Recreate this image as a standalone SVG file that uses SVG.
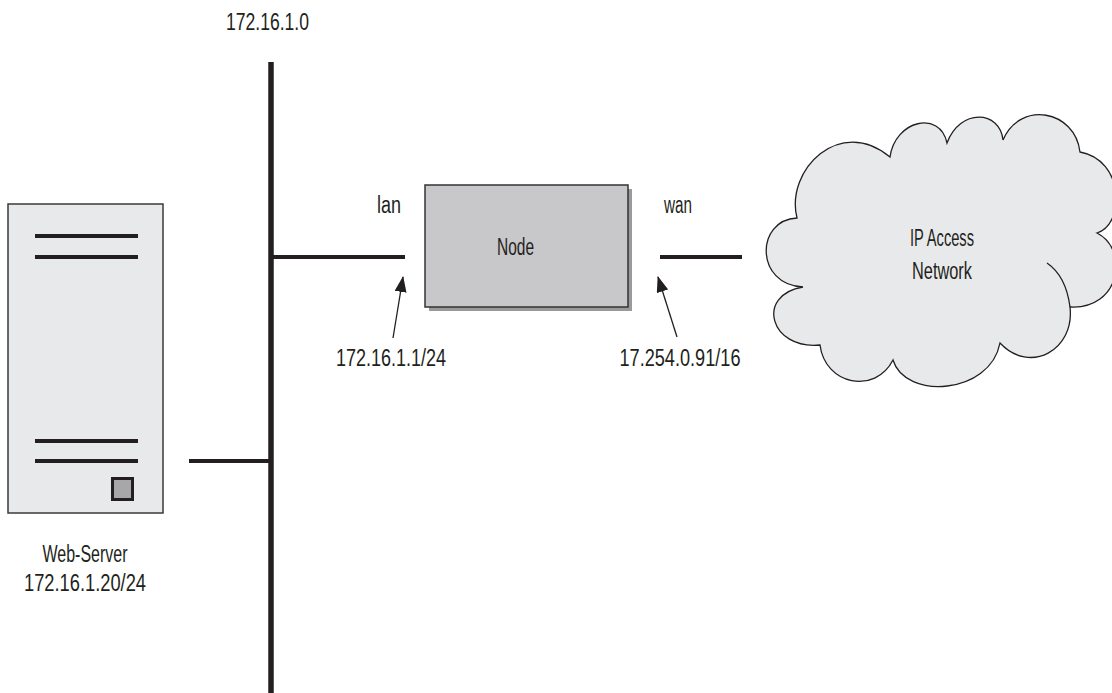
<svg xmlns="http://www.w3.org/2000/svg" width="1112" height="693" viewBox="0 0 1112 693">
<style>
text{font-family:"Liberation Sans Narrow","Liberation Sans",Arial,sans-serif;font-size:23px;fill:#231f20;text-anchor:middle}
.thick{stroke:#231f20;stroke-width:4;fill:none}
.thin{stroke:#231f20;stroke-width:1.3;fill:none}
</style>
<defs>
<marker id="ah" markerWidth="16" markerHeight="12" refX="15" refY="6" orient="auto" markerUnits="userSpaceOnUse">
<path d="M0,0 L16,6 L0,12 Z" fill="#231f20"/>
</marker>
</defs>
<rect width="1112" height="693" fill="#fff"/>
<g id="bus">
<line x1="271" y1="62" x2="271" y2="693" stroke="#231f20" stroke-width="5.5"/>
<text x="267.5" y="30" textLength="83" lengthAdjust="spacingAndGlyphs">172.16.1.0</text>
</g>
<g id="web-server">
<rect x="8" y="204" width="155" height="309" fill="#e8e9eb" stroke="#3a3a3a" stroke-width="1.5"/>
<line class="thick" x1="35" y1="236" x2="138" y2="236"/>
<line class="thick" x1="35" y1="257" x2="138" y2="257"/>
<line class="thick" x1="35" y1="441" x2="138" y2="441"/>
<line class="thick" x1="35" y1="461" x2="138" y2="461"/>
<rect x="112.5" y="478.5" width="20" height="21" fill="#a7a7a9" stroke="#231f20" stroke-width="3"/>
<text x="85" y="562" textLength="85" lengthAdjust="spacingAndGlyphs">Web-Server</text>
<text x="85" y="591" textLength="122" lengthAdjust="spacingAndGlyphs">172.16.1.20/24</text>
</g>
<g id="node">
<rect x="429" y="189" width="203" height="122" fill="#9a9a9c"/>
<rect x="425" y="185" width="203" height="122" fill="#c8c8ca" stroke="#333" stroke-width="1.5"/>
<text x="515.5" y="254.5" textLength="37" lengthAdjust="spacingAndGlyphs">Node</text>
</g>
<g id="cloud">
<path d="M797,218 C785,170 840,115 890,157 C895,120 940,110 947,143 C960,108 1000,110 1003,140 C1020,100 1075,110 1080,152 C1125,160 1125,225 1097,233 C1130,250 1120,310 1070,307 C1075,350 1030,375 1000,343 C990,395 905,400 893,360 C875,395 825,385 820,345 C770,350 755,295 803,287 C755,285 755,220 797,218 Z" fill="#e8e9eb" stroke="#231f20" stroke-width="1.3"/>
<path class="thin" d="M1047,263 Q1066,276 1070,307"/>
<text x="942" y="246" textLength="64" lengthAdjust="spacingAndGlyphs">IP Access</text>
<text x="942" y="278.5" textLength="60" lengthAdjust="spacingAndGlyphs">Network</text>
</g>
<g id="connectors">
<line class="thick" x1="189" y1="461" x2="271" y2="461"/>
<line class="thick" x1="271" y1="257" x2="405" y2="257"/>
<line class="thick" x1="660" y1="257" x2="742" y2="257"/>
<line class="thin" x1="393" y1="338" x2="403" y2="277" marker-end="url(#ah)"/>
<line class="thin" x1="677" y1="337" x2="658" y2="277" marker-end="url(#ah)"/>
</g>
<g id="labels">
<text x="389" y="213" textLength="24" lengthAdjust="spacingAndGlyphs">lan</text>
<text x="678" y="213" textLength="28" lengthAdjust="spacingAndGlyphs">wan</text>
<text x="391" y="366" textLength="110" lengthAdjust="spacingAndGlyphs">172.16.1.1/24</text>
<text x="680" y="366" textLength="121" lengthAdjust="spacingAndGlyphs">17.254.0.91/16</text>
</g>
</svg>
